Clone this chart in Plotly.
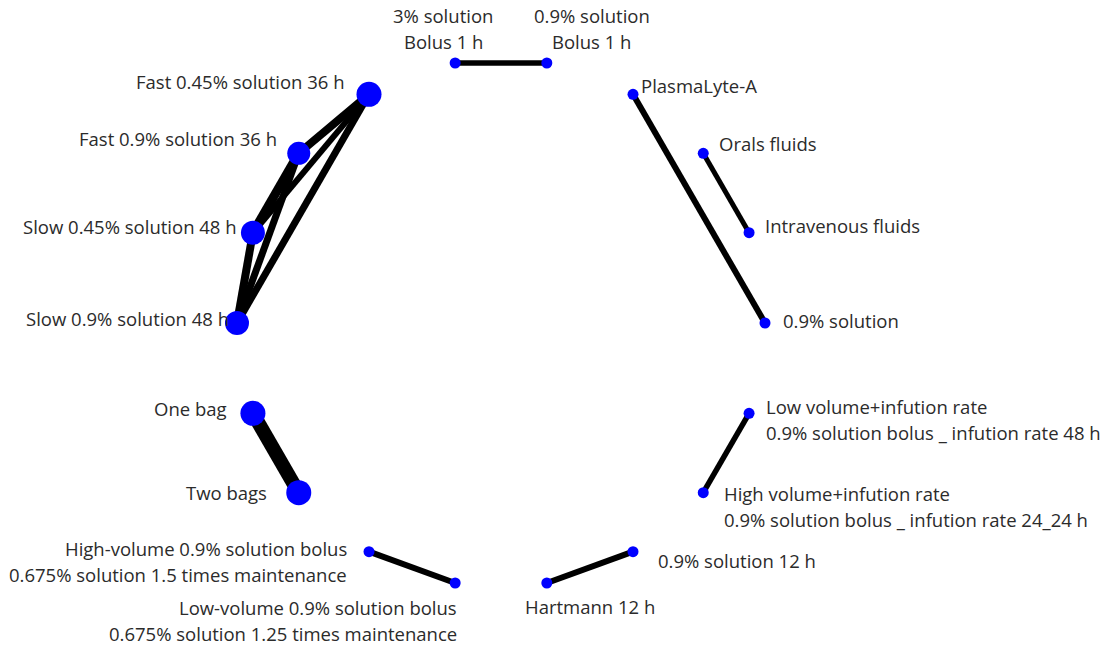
import math
import plotly.graph_objects as go

# Nodes in circular order (counter-clockwise from the right, 20 deg apart)
node_names = [
    "0.9% solution",
    "Intravenous fluids",
    "Orals fluids",
    "PlasmaLyte-A",
    "0.9% solution\nBolus 1 h",
    "3% solution\nBolus 1 h",
    "Fast 0.45% solution 36 h",
    "Fast 0.9% solution 36 h",
    "Slow 0.45% solution 48 h",
    "Slow 0.9% solution 48 h",
    "One bag",
    "Two bags",
    "High-volume 0.9% solution bolus\n0.675% solution 1.5 times maintenance",
    "Low-volume 0.9% solution bolus\n0.675% solution 1.25 times maintenance",
    "Hartmann 12 h",
    "0.9% solution 12 h",
    "High volume+infution rate\n0.9% solution bolus _ infution rate 24_24 h",
    "Low volume+infution rate\n0.9% solution bolus _ infution rate 48 h",
]
node_weight = [1, 1, 1, 1, 1, 1, 2.5, 2.3, 2.4, 2.4, 2.5, 2.5, 1, 1, 1, 1, 1, 1]

edge_src = [5, 3, 2, 17, 15, 13, 10, 6, 6, 6, 7, 7, 8]
edge_dst = [4, 0, 1, 16, 14, 12, 11, 7, 8, 9, 8, 9, 9]
edge_weight = [1.1, 1.2, 1, 1.1, 1.2, 1.2, 2.8, 1.6, 1.2, 1.4, 1.8, 1.4, 1.6]

# label placement: (xanchor, xshift, yshift) relative to node
label_place = [
    ("left", 16, 3), ("left", 14, 7), ("left", 14, 10), ("left", 6, 9),
    ("center", 45, 0), ("center", -12, 0),
    ("right", -22, 13), ("right", -20, 15), ("right", -14, 6), ("right", -6, 5),
    ("right", -24, 5), ("right", -30, 0),
    ("right", -20, -10), ("right", 4, -38),
    ("center", 43, -24), ("left", 23, -9), ("left", 19, -14), ("left", 15, -6),
]

cx, cy, R = 501, 323, 264
n = len(node_names)
xs = [cx + R * math.cos(math.radians(20 * k)) for k in range(n)]
ys = [cy - R * math.sin(math.radians(20 * k)) for k in range(n)]

fig = go.Figure()
for s, d, w in zip(edge_src, edge_dst, edge_weight):
    fig.add_trace(go.Scatter(x=[xs[s], xs[d]], y=[ys[s], ys[d]], mode="lines",
                             line=dict(color="black", width=5 * w),
                             hoverinfo="skip", showlegend=False))

fig.add_trace(go.Scatter(x=xs, y=ys, mode="markers",
                         marker=dict(color="#0000FF", opacity=1,
                                     size=[10 * w if w > 1 else 11 for w in node_weight],
                                     line=dict(width=0)),
                         text=[t.replace("\n", " ") for t in node_names],
                         hoverinfo="text", showlegend=False))

line_h = 26
for k, (name, (xa, xsh, ysh)) in enumerate(zip(node_names, label_place)):
    lines = name.split("\n")
    m = len(lines)
    if k in (4, 5):
        for i, ln in enumerate(lines):
            yoff = 20 + (m - 1 - i) * line_h + 2
            fig.add_annotation(x=xs[k], y=ys[k], text=ln, showarrow=False,
                               xanchor="center", yanchor="middle",
                               xshift=xsh, yshift=yoff)
        continue
    for i, ln in enumerate(lines):
        yoff = ysh + ((m - 1) / 2 - i) * line_h
        fig.add_annotation(x=xs[k], y=ys[k], text=ln, showarrow=False,
                           xanchor=xa, yanchor="middle",
                           xshift=xsh, yshift=yoff)

fig.update_annotations(font=dict(family="Open Sans", size=18.5, color="#2b2b2b"))
fig.update_layout(width=1104, height=648, margin=dict(l=0, r=0, t=0, b=0),
                  plot_bgcolor="white", paper_bgcolor="white",
                  xaxis=dict(range=[0, 1104], visible=False),
                  yaxis=dict(range=[648, 0], visible=False))
fig.write_html("out.html")
